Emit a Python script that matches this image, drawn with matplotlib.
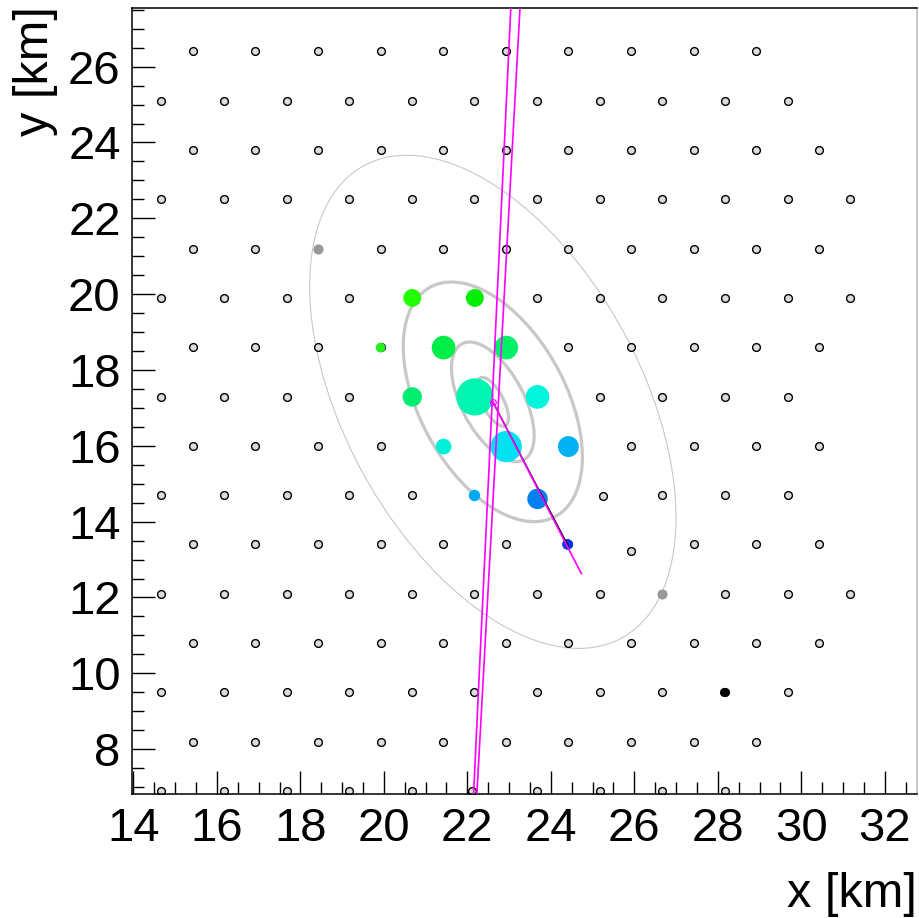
import numpy as np
import matplotlib.pyplot as plt
from matplotlib.patches import Ellipse
from matplotlib.ticker import MultipleLocator

plt.rcParams['font.family'] = ['Liberation Sans', 'DejaVu Sans']

# surface detector grid: row heights and station positions in each row [km]
row_y = [26.4, 25.1, 23.8, 22.5, 21.2, 19.9, 18.6, 17.3, 16.0, 14.7, 13.4, 12.1, 10.8, 9.5, 8.2, 6.9]
row_x = [
    [15.42, 16.92, 18.42, 19.92, 21.42, 22.92, 24.42, 25.92, 27.42, 28.92],
    [14.67, 16.17, 17.67, 19.17, 20.67, 22.17, 23.67, 25.17, 26.67, 28.17, 29.67],
    [15.42, 16.92, 18.42, 19.92, 21.42, 22.92, 24.42, 25.92, 27.42, 28.92, 30.42],
    [14.67, 16.17, 17.67, 19.17, 20.67, 22.17, 23.67, 25.17, 26.67, 28.17, 29.67, 31.17],
    [15.42, 16.92, 18.42, 19.92, 21.42, 22.92, 24.42, 25.92, 27.42, 28.92, 30.42],
    [14.67, 16.17, 17.67, 19.17, 20.67, 22.17, 23.67, 25.17, 26.67, 28.17, 29.67, 31.17],
    [15.42, 16.92, 18.42, 19.92, 21.42, 22.92, 24.42, 25.92, 27.42, 28.92, 30.42],
    [14.67, 16.17, 17.67, 19.17, 20.67, 22.17, 23.67, 25.17, 26.67, 28.17, 29.67],
    [15.42, 16.92, 18.42, 19.92, 21.42, 22.92, 24.42, 25.92, 27.42, 28.92, 30.42],
    [14.67, 16.17, 17.67, 19.17, 20.67, 22.17, 26.67, 28.17, 29.67],
    [15.42, 16.92, 18.42, 19.92, 21.42, 22.92, 24.42, 27.42, 28.92, 30.42],
    [14.67, 16.17, 17.67, 19.17, 20.67, 22.17, 23.67, 25.17, 26.67, 28.17, 29.67, 31.17],
    [15.42, 16.92, 18.42, 19.92, 21.42, 22.92, 24.42, 25.92, 27.42, 28.92, 30.42],
    [14.67, 16.17, 17.67, 19.17, 20.67, 22.17, 23.67, 25.17, 26.67, 28.17, 29.67],
    [15.42, 16.92, 18.42, 19.92, 21.42, 22.92, 24.42, 25.92, 27.42, 28.92],
    [14.67, 16.17, 17.67, 19.17, 20.67, 22.10, 23.67, 25.17, 26.67, 28.17],
]
# stations that sit off the regular grid
odd_x = [23.68, 25.25, 25.92]
odd_y = [14.60, 14.67, 13.22]

# stations with a signal: position, signal (marker radius) and colour (time)
hit_x = [20.68, 22.18, 19.92, 21.43, 22.93, 20.68, 22.18, 23.68, 21.43, 22.93, 24.42, 22.17, 23.68, 24.40]
hit_y = [19.90, 19.90, 18.59, 18.59, 18.59, 17.29, 17.29, 17.29, 15.98, 15.98, 15.98, 14.69, 14.60, 13.40]
hit_sig = [8.3, 8.3, 4.5, 11.0, 11.0, 9.0, 17.3, 11.0, 7.3, 14.5, 9.7, 5.3, 9.5, 5.0]
hit_col = ['#22ff00', '#00ee08', '#22ee22', '#00ee48', '#00f068', '#00ee70', '#00f5b0',
           '#00f5dd', '#00f0d8', '#00e2f2', '#00b2f5', '#00aaf2', '#0080ee', '#0036ee']

# stations that are not usable (gray) / saturated (black)
gray_x = [18.43, 26.66]
gray_y = [21.19, 12.08]
black_x = [28.15]
black_y = [9.50]

# shower core, reconstructed axis and core-uncertainty band
core = (22.61, 17.16)
axis_end = (24.73, 12.63)
axis_end2 = (24.42, 13.35)
band_a = ([22.15, 23.04], [6.85, 27.54])
band_b = ([22.23, 23.26], [6.85, 27.54])

# ellipses around the core: semi-axes [km]
ell_major = [0.70, 1.70, 3.38, 6.96]
ell_minor = [0.26, 0.76, 1.78, 3.62]
ell_angle = -65.35

fig = plt.figure(figsize=(9.2, 9.18), dpi=100)
ax = fig.add_axes([0.1432, 0.1348, 0.8535, 0.8562])

for i, (a, b) in enumerate(zip(ell_major, ell_minor)):
    lw = 0.8 if i == 3 else 2.3
    ax.add_patch(Ellipse(core, 2 * a, 2 * b, angle=ell_angle, fill=False,
                         edgecolor='#c8c8c8', linewidth=lw, zorder=1))

st = dict(ms=5.6, mfc='#dcdcdc', mec='black', mew=1.0, zorder=2)
for y, xs in zip(row_y, row_x):
    ax.plot(xs, [y] * len(xs), 'o', **st)
ax.plot(odd_x, odd_y, 'o', **st)

ax.plot(gray_x, gray_y, 'o', ms=7.2, mfc='#999999', mec='#999999', mew=0, zorder=3)
ax.plot(black_x, black_y, 'o', ms=6.6, mfc='black', mec='black', mew=0, zorder=3)

ax.scatter(hit_x, hit_y, s=(1.55 * np.array(hit_sig)) ** 2, c=hit_col, linewidths=0, zorder=3)

ax.plot(*band_a, color='#ff00ff', lw=1.2, zorder=4)
ax.plot(*band_b, color='#ff00ff', lw=1.2, zorder=4)
ax.plot([core[0], axis_end2[0]], [core[1], axis_end2[1]], color='black', lw=1.0, zorder=4)
ax.plot([core[0], axis_end[0]], [core[1], axis_end[1]], color='#ff00ff', lw=1.2, zorder=5)
ax.plot([core[0]], [core[1]], 'o', ms=4, mfc='none', mec='#ff00ff', mew=0.9, zorder=6)

ax.set_xlim(13.96, 32.77)
ax.set_ylim(6.81, 27.54)
ax.xaxis.set_major_locator(MultipleLocator(2))
ax.xaxis.set_minor_locator(MultipleLocator(0.5))
ax.yaxis.set_major_locator(MultipleLocator(2))
ax.yaxis.set_minor_locator(MultipleLocator(0.5))
ax.tick_params(which='both', direction='in', top=False, right=False, width=1.0, labelsize=34)
ax.tick_params(which='major', length=16.5)
ax.tick_params(which='minor', length=8.3)
ax.tick_params(axis='x', pad=9)
ax.tick_params(axis='y', pad=8)
for s in ax.spines.values():
    s.set_linewidth(1.1)
ax.spines['right'].set_color('#bbbbbb')

fig.text(917 / 920, (918 - 906.7) / 918, 'x [km]', ha='right', va='baseline', fontsize=35)
fig.text(36 / 920, 1 - 6 / 918, 'y [km]', ha='center', va='top', rotation=90, fontsize=35)

plt.savefig('out.png')
